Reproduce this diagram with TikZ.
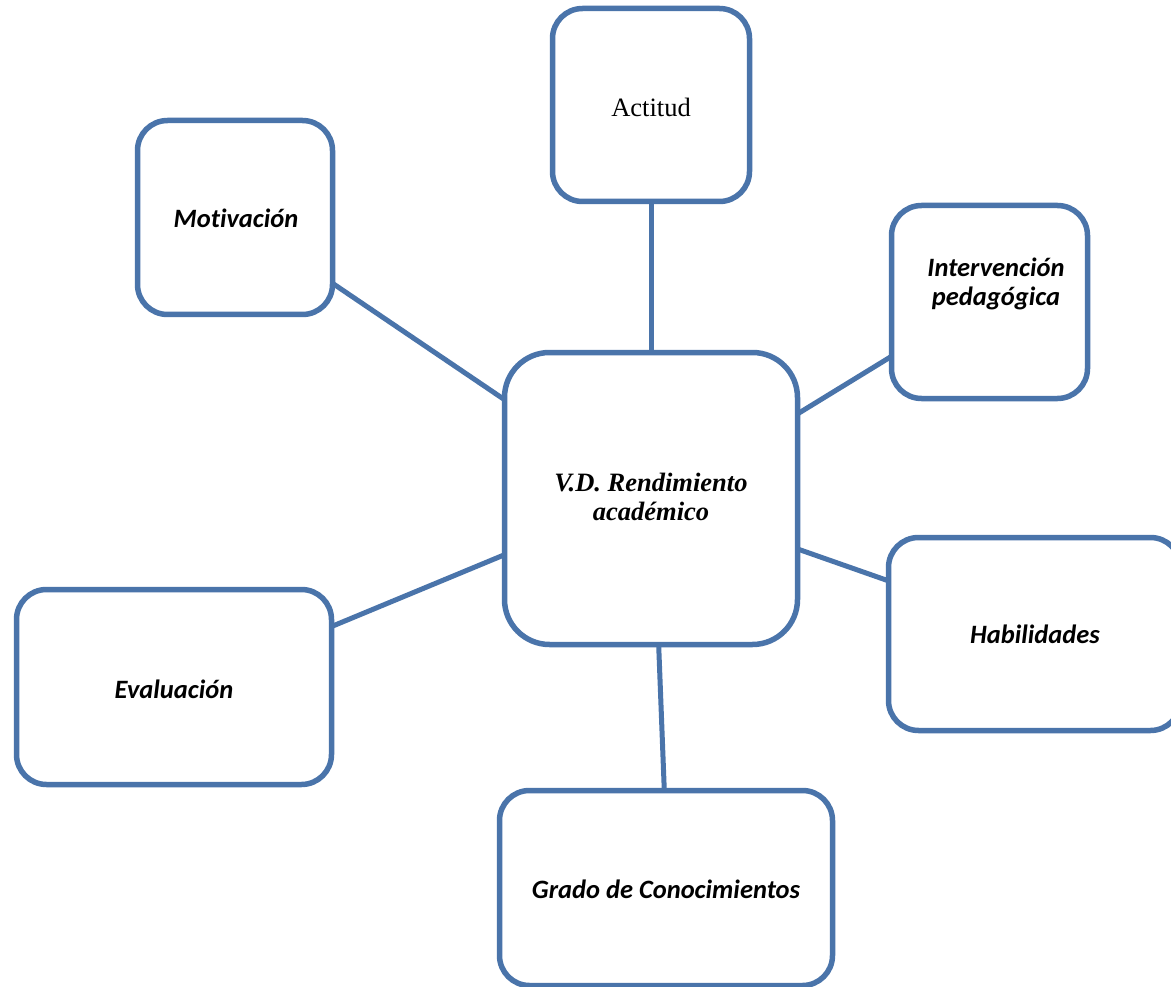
\documentclass[tikz,border=0pt]{standalone}
\usepackage{fontspec}
\setmainfont{Liberation Serif}
\newfontfamily\calib[Ligatures=NoCommon]{Carlito}
\definecolor{bord}{HTML}{4A74AA}
\tikzset{
  box/.style={draw=bord, line width=5.5pt, rounded corners=30pt, fill=white, inner sep=0pt, outer sep=0pt},
  link/.style={draw=bord, line width=5pt},
  lbl/.style={font=\calib\bfseries\itshape\fontsize{26.5}{29}\selectfont, align=center},
  serl/.style={font=\fontsize{26.5}{29}\selectfont, align=center},
  serbl/.style={font=\bfseries\itshape\fontsize{26.5}{29}\selectfont, align=center}
}
\begin{document}
\begin{tikzpicture}[x=1pt,y=-1pt]
\useasboundingbox (0,0) rectangle (1171,987);
\clip (0,0) rectangle (1171,987);
\fill[white] (0,0) rectangle (1171,987);
% boxes
\node[box, minimum width=197pt, minimum height=193pt] (act) at (651,105) {};
\node[box, minimum width=195pt, minimum height=194pt] (mot) at (235,217.5) {};
\node[box, minimum width=196pt, minimum height=193pt] (int) at (989.5,302) {};
\node[box, minimum width=293pt, minimum height=292pt, rounded corners=45pt] (cen) at (651,498.5) {};
\node[box, minimum width=315pt, minimum height=195pt] (eva) at (174,687) {};
\node[box, minimum width=292pt, minimum height=193pt] (hab) at (1034.5,634) {};
\node[box, minimum width=333pt, minimum height=195pt] (gra) at (666,888) {};
% labels
\node[serl] (tact) at (651,107) {Actitud};
\node[lbl] (tmot) at (236,218) {Motivación};
\node[lbl] (tint) at (996,284) {Intervención\\pedagógica};
\node[serbl] (tcen) at (651,497) {V.D. Rendimiento\\académico};
\node[lbl] (teva) at (174,689) {Evaluación};
\node[lbl] (thab) at (1035,634) {Habilidades};
\node[lbl] (tgra) at (666,889) {Grado de Conocimientos};
% connectors
\draw[link] (act.south) -- (cen.north);
\draw[link] (mot.-34) -- (cen.146);
\draw[link] (int.209) -- (cen.30);
\draw[link] (hab.160) -- (cen.-19);
\draw[link] (eva.21) -- (cen.201.7);
\draw[link] (gra.91) -- (cen.-87.7);
\end{tikzpicture}
\end{document}
